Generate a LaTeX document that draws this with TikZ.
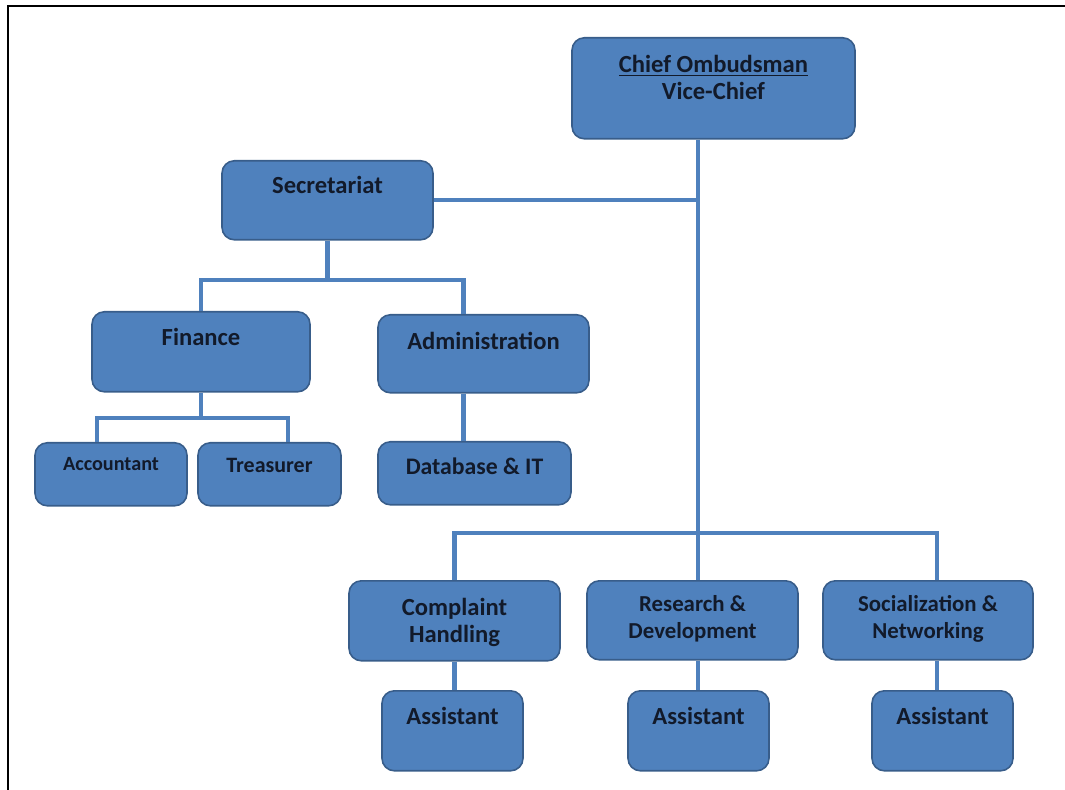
\documentclass[tikz,border=0pt]{standalone}
\usepackage{fontspec}
\setmainfont{Carlito}
\definecolor{boxblue}{HTML}{4F81BD}
\definecolor{boxedge}{HTML}{385D8A}
\definecolor{ink}{HTML}{121A2A}
\newcommand{\twoline}[2]{\begin{tabular}[t]{@{}c@{}}#1\\#2\end{tabular}}
\begin{document}
\begin{tikzpicture}[x=0.02cm, y=-0.02cm,
    unit/.style={draw=boxedge, fill=boxblue, line width=0.9pt, rounded corners=7pt,
      anchor=north, inner sep=0pt, text=ink, font=\bfseries\fontsize{14}{15}\selectfont},
    link/.style={draw=boxblue, line width=2.3pt}]
  \useasboundingbox (0,0) rectangle (1065,790);
  \draw[line width=1.7pt] (8,790) -- (8,6) -- (1065,6);

  % top of the chart
  \node[unit, minimum width=5.66cm, text height=0.70cm, text depth=1.32cm] (C) at (713.5,37)
    {\twoline{\underline{Chief Ombudsman}}{Vice-Chief}};
  \node[unit, minimum width=4.22cm, text height=0.66cm, text depth=0.92cm] (S) at (327.5,160) {Secretariat};

  % secretariat side
  \node[unit, minimum width=4.36cm, text height=0.68cm, text depth=0.92cm] (F) at (201,311) {Finance};
  \node[unit, minimum width=4.22cm, text height=0.70cm, text depth=0.86cm] (A) at (483.5,314) {Administration};
  \node[unit, minimum width=3.04cm, text height=0.56cm, text depth=0.70cm,
    font=\bfseries\fontsize{11.5}{13}\selectfont] (Ac) at (111,442) {Accountant};
  \node[unit, minimum width=2.86cm, text height=0.60cm, text depth=0.66cm,
    font=\bfseries\fontsize{12.5}{14}\selectfont] (Tr) at (269.5,442) {Treasurer};
  \node[unit, minimum width=3.86cm, text height=0.66cm, text depth=0.60cm,
    font=\bfseries\fontsize{13.5}{15}\selectfont] (DB) at (474.5,441) {Database \& IT};

  % divisions
  \node[unit, minimum width=4.22cm, text height=0.70cm, text depth=0.90cm] (CH) at (454.5,580)
    {\twoline{Complaint}{Handling}};
  \node[unit, minimum width=4.22cm, text height=0.62cm, text depth=0.96cm,
    font=\bfseries\fontsize{13}{15.3}\selectfont] (RD) at (692.5,580)
    {\twoline{Research \&}{Development}};
  \node[unit, minimum width=4.20cm, text height=0.62cm, text depth=0.96cm,
    font=\bfseries\fontsize{13}{15.3}\selectfont] (SN) at (928,580)
    {\twoline{Socialization \&}{Networking}};
  \node[unit, minimum width=2.82cm, text height=0.68cm, text depth=0.92cm] (A1) at (452.5,690) {Assistant};
  \node[unit, minimum width=2.82cm, text height=0.68cm, text depth=0.92cm] (A2) at (698.5,690) {Assistant};
  \node[unit, minimum width=2.82cm, text height=0.68cm, text depth=0.92cm] (A3) at (942.5,690) {Assistant};

  % connectors
  \coordinate (T) at (698,0);
  \coordinate (SB) at (323,280);
  \coordinate (FB) at (205,418);
  \coordinate (BB) at (698,533);
  \draw[link] (C.south -| T) -- (RD.north -| T);
  \draw[link] (S.east) -- (S.east -| T);
  \draw[link] (S.south) -- (S.south |- SB);
  \draw[link] (F.north) |- (SB) -| ([xshift=-0.4cm]A.north);
  \draw[link] (F.south) -- (F.south |- FB);
  \draw[link] ([xshift=-0.28cm]Ac.north) |- (FB) -| ([xshift=0.37cm]Tr.north);
  \draw[link] ([xshift=-0.4cm]A.south) -- ([xshift=-0.4cm]A.south |- DB.north);
  \draw[link] (CH.north) |- (BB) -| ([xshift=0.18cm]SN.north);
  \draw[link] (CH.south) -- (CH.south |- A1.north);
  \draw[link] (RD.south -| T) -- (A2.north -| T);
  \draw[link] ([xshift=0.18cm]SN.south) -- ([xshift=0.18cm]SN.south |- A3.north);
\end{tikzpicture}
\end{document}
